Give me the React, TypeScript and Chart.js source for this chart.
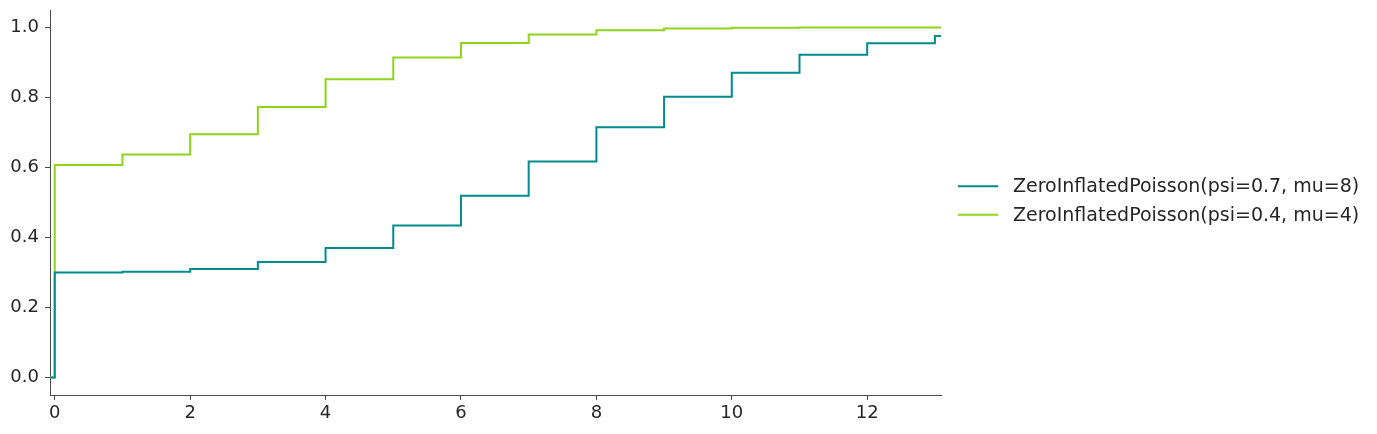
import React, { useEffect, useRef } from "react";
import { Chart, registerables } from "chart.js";

Chart.register(...registerables);

// Support points (x) of the two discrete distributions
const support = [0, 1, 2, 3, 4, 5, 6, 7, 8, 9, 10, 11, 12, 13];

// CDF values
const cdfPsi07Mu8 = [0.300, 0.302, 0.310, 0.330, 0.370, 0.434, 0.519, 0.617, 0.715, 0.802, 0.871, 0.922, 0.955, 0.976];
const cdfPsi04Mu4 = [0.607, 0.637, 0.695, 0.773, 0.852, 0.914, 0.956, 0.980, 0.992, 0.997, 0.999, 1.0, 1.0, 1.0];

const seriesLabels = [
  "ZeroInflatedPoisson(psi=0.7, mu=8)",
  "ZeroInflatedPoisson(psi=0.4, mu=4)",
];
const seriesColors = ["#008b8e", "#8fd41c"];

const xTicks = [0, 2, 4, 6, 8, 10, 12];
const yTicks = [0.0, 0.2, 0.4, 0.6, 0.8, 1.0];

const X_MIN = -0.07;
const X_MAX = 13.09;
const Y_MIN = -0.05;
const Y_MAX = 1.05;

function toSteps(xs: number[], ys: number[]) {
  // CDF is 0 below the support and flat after the last point
  const pts = [{ x: xs[0] - 1, y: 0 }];
  xs.forEach((x, i) => pts.push({ x, y: ys[i] }));
  pts.push({ x: xs[xs.length - 1] + 1, y: ys[ys.length - 1] });
  return pts;
}

const sideLegend = {
  id: "sideLegend",
  afterDraw(chart: any) {
    const { ctx, chartArea } = chart;
    const mid = (chartArea.top + chartArea.bottom) / 2 - 2;
    const rowGap = 28.5;
    const n = chart.data.datasets.length;
    ctx.save();
    ctx.font = "19px 'DejaVu Sans'";
    ctx.textBaseline = "middle";
    ctx.textAlign = "left";
    chart.data.datasets.forEach((ds: any, i: number) => {
      const y = mid + (i - (n - 1) / 2) * rowGap;
      const x0 = chartArea.right + 17;
      ctx.strokeStyle = ds.borderColor;
      ctx.lineWidth = 2;
      ctx.beginPath();
      ctx.moveTo(x0, y);
      ctx.lineTo(x0 + 40, y);
      ctx.stroke();
      ctx.fillStyle = "#262626";
      ctx.fillText(ds.label, x0 + 55, y + 1);
    });
    ctx.restore();
  },
};

function zeroPadding(scale: any) {
  scale.paddingTop = 0;
  scale.paddingBottom = 0;
  scale.paddingLeft = 0;
  scale.paddingRight = 0;
}

export default function App() {
  const ref = useRef<HTMLCanvasElement | null>(null);

  useEffect(() => {
    document.body.style.margin = "0";
    const canvas = ref.current;
    if (!canvas) return;
    Chart.defaults.font.family = "'DejaVu Sans'";
    const chart = new Chart(canvas, {
      type: "line",
      data: {
        datasets: [
          {
            label: seriesLabels[0],
            data: toSteps(support, cdfPsi07Mu8),
            borderColor: seriesColors[0],
            borderWidth: 2,
            pointRadius: 0,
            stepped: "before",
            fill: false,
            clip: 0,
          },
          {
            label: seriesLabels[1],
            data: toSteps(support, cdfPsi04Mu4),
            borderColor: seriesColors[1],
            borderWidth: 2,
            pointRadius: 0,
            stepped: "before",
            fill: false,
            clip: 0,
          },
        ],
      },
      options: {
        animation: false,
        responsive: false,
        devicePixelRatio: 1,
        layout: { padding: { left: 0, top: 10, right: 436, bottom: 0 } },
        plugins: {
          legend: { display: false },
          tooltip: { enabled: false },
        },
        scales: {
          x: {
            type: "linear",
            min: X_MIN,
            max: X_MAX,
            afterBuildTicks: (scale: any) => {
              scale.ticks = xTicks.map((v) => ({ value: v }));
            },
            afterFit: (scale: any) => {
              scale.height = 39;
              zeroPadding(scale);
            },
            grid: {
              drawOnChartArea: false,
              drawTicks: true,
              tickLength: 5,
              tickColor: "#4a4a4a",
              tickWidth: 1,
            },
            border: { display: true, color: "#4a4a4a", width: 1 },
            ticks: {
              color: "#262626",
              font: { size: 18 },
              padding: 3,
              maxRotation: 0,
              callback: (v: any) => String(v),
            },
          },
          y: {
            type: "linear",
            min: Y_MIN,
            max: Y_MAX,
            afterBuildTicks: (scale: any) => {
              scale.ticks = yTicks.map((v) => ({ value: v }));
            },
            afterFit: (scale: any) => {
              scale.width = 50;
              zeroPadding(scale);
            },
            grid: {
              drawOnChartArea: false,
              drawTicks: true,
              tickLength: 5,
              tickColor: "#4a4a4a",
              tickWidth: 1,
            },
            border: { display: true, color: "#4a4a4a", width: 1 },
            ticks: {
              color: "#262626",
              font: { size: 18 },
              padding: 6,
              callback: (v: any) => Number(v).toFixed(1),
            },
          },
        },
      },
      plugins: [sideLegend],
    });
    return () => chart.destroy();
  }, []);

  return (
    <div style={{ width: 1377, height: 434 }}>
      <canvas ref={ref} width={1377} height={434} style={{ display: "block" }} />
    </div>
  );
}
